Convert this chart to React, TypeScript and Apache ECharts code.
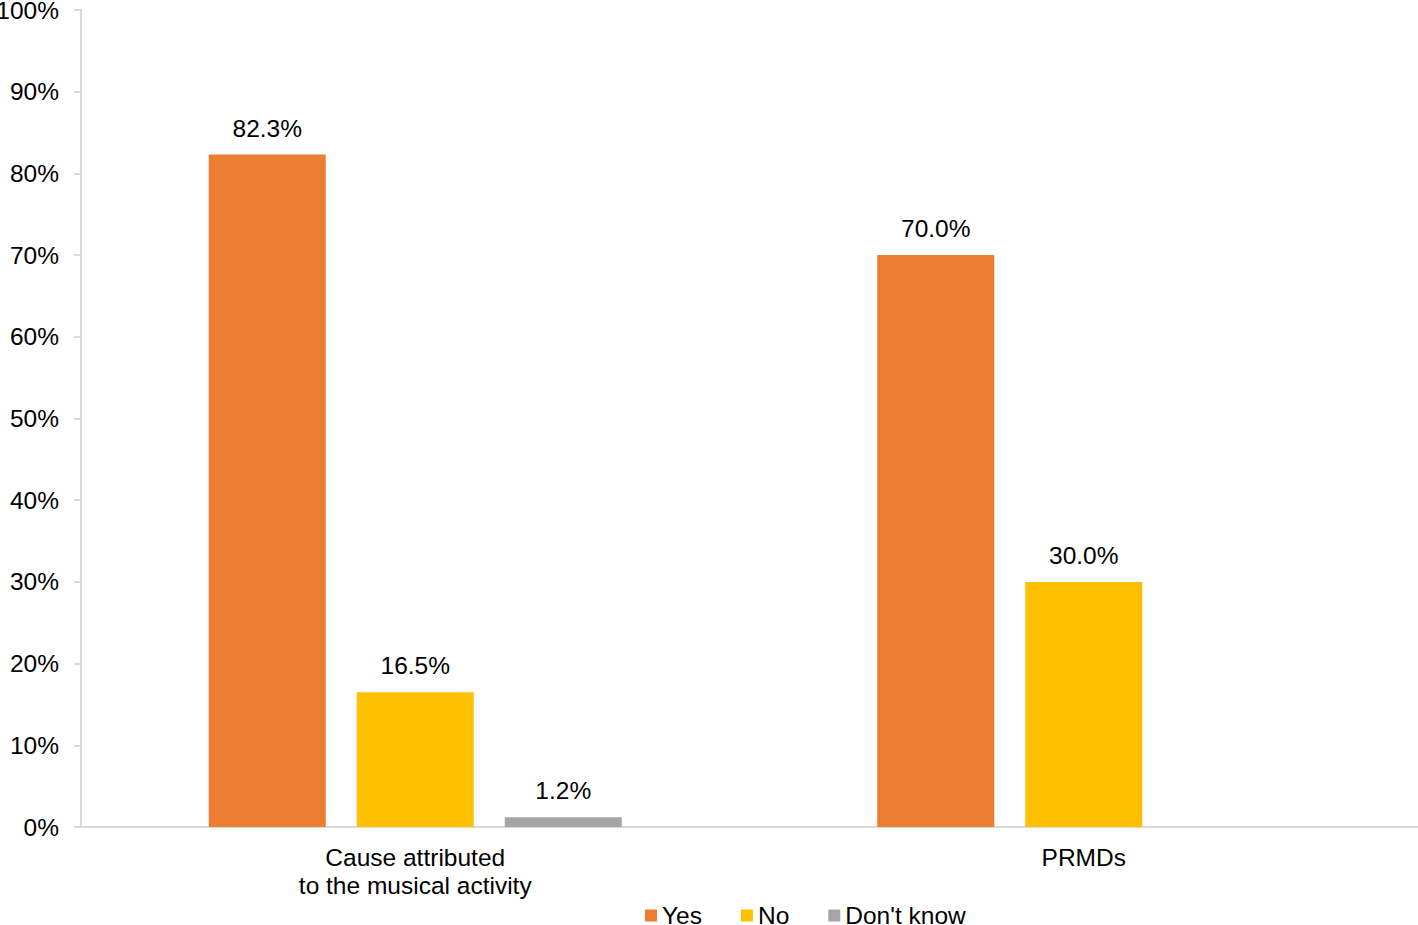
import React, { useEffect, useRef } from "react";
import * as echarts from "echarts";

const categories = ["Cause attributed\nto the musical activity", "PRMDs"];
const seriesNames = ["Yes", "No", "Don't know"];
const yesValues = [82.3, 70.0];
const noValues = [16.5, 30.0];
const dontKnowValues: (number | null)[] = [1.2, null];
const yTicks = [0, 10, 20, 30, 40, 50, 60, 70, 80, 90, 100];

const colors = ["#ED7D31", "#FFC000", "#A5A5A5"];
const FONT = "'Liberation Sans', Arial, sans-serif";
const FS = 24.5;

export default function App() {
  const ref = useRef<HTMLDivElement>(null);
  useEffect(() => {
    if (!ref.current) return;
    const chart = echarts.init(ref.current, undefined, { renderer: "svg" });
    const dataSets = [yesValues, noValues, dontKnowValues];
    chart.setOption({
      animation: false,
      textStyle: { fontFamily: FONT },
      grid: { left: 81, right: 0, top: 10, bottom: 98, containLabel: false, outerBoundsMode: "none" },
      legend: {
        data: seriesNames,
        top: 903,
        left: 645,
        padding: 0,
        itemWidth: 12,
        itemHeight: 12,
        itemGap: 39,
        icon: "rect",
        textStyle: { fontSize: FS, lineHeight: 22, color: "#000", fontFamily: FONT },
      },
      xAxis: {
        type: "category",
        data: categories,
        axisLine: { show: true, lineStyle: { color: "#d9d9d9", width: 2 } },
        axisTick: { show: false },
        axisLabel: { fontSize: FS, color: "#000", lineHeight: 28, margin: 16, fontFamily: FONT },
      },
      yAxis: {
        type: "value",
        min: yTicks[0],
        max: yTicks[yTicks.length - 1],
        interval: 10,
        axisLine: { show: true, lineStyle: { color: "#d9d9d9", width: 2 } },
        axisTick: { show: true, length: 7, lineStyle: { color: "#d9d9d9", width: 2 } },
        splitLine: { show: false },
        axisLabel: {
          fontSize: FS,
          color: "#000",
          margin: 22,
          fontFamily: FONT,
          formatter: (v: number) => `${v}%`,
        },
      },
      series: seriesNames.map((name, i) => ({
        name,
        type: "bar",
        data: dataSets[i],
        barWidth: 117,
        barGap: "26.5%",
        itemStyle: { color: colors[i] },
        label: {
          show: true,
          position: "top",
          distance: 14,
          fontSize: FS,
          color: "#000",
          fontFamily: FONT,
          formatter: (p: any) => (p.value == null ? "" : `${Number(p.value).toFixed(1)}%`),
        },
      })),
    });
    return () => chart.dispose();
  }, []);
  return (
    <div
      ref={ref}
      style={{ position: "fixed", left: 0, top: 0, width: 1418, height: 925, background: "#fff" }}
    />
  );
}
